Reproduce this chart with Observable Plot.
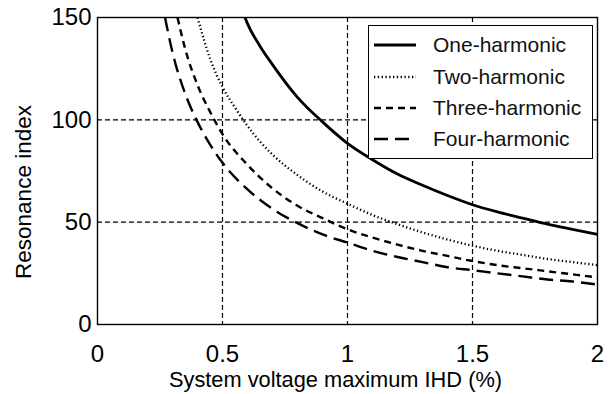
<!DOCTYPE html>
<html>
<head>
<meta charset="utf-8">
<script src="https://cdn.jsdelivr.net/npm/d3@7"></script>
<script src="https://cdn.jsdelivr.net/npm/@observablehq/plot@0.6"></script>
<style>
  html, body { margin: 0; padding: 0; background: #fff; }
  #wrap { position: relative; width: 608px; height: 394px; font-family: "Liberation Sans", Arial, sans-serif; }
  #legend { position: absolute; left: 368px; top: 25px; width: 225px; height: 134px; border: 1.3px solid #000; background: #fff; box-sizing: border-box; }
  .row { position: absolute; left: 0; height: 30px; display: flex; align-items: center; }
  .row span { font-size: 21px; color: #111; margin-left: 17px; }
  .row svg { margin-left: 5px; }
</style>
</head>
<body>
<div id="wrap"></div>
<script>
// Series names
const seriesNames = ["One-harmonic", "Two-harmonic", "Three-harmonic", "Four-harmonic"];

// Values (x = IHD %, y = resonance index)
const oneX = [0.59, 0.6, 0.65, 0.7, 0.8, 0.9, 1.0, 1.1, 1.2, 1.3, 1.4, 1.5, 1.6, 1.7, 1.8, 1.9, 2.0];
const oneY = [150, 147, 136, 127, 111, 99, 88.5, 80.5, 73.5, 68, 63, 58.5, 55, 52, 49, 46.5, 44];

const twoX = [0.40, 0.45, 0.5, 0.55, 0.6, 0.7, 0.8, 0.9, 1.0, 1.1, 1.2, 1.3, 1.4, 1.5, 1.6, 1.7, 1.8, 1.9, 2.0];
const twoY = [150, 130, 116, 106, 97, 83, 73, 65, 59, 53.5, 49, 45, 41.5, 38.5, 36, 34, 32, 30.5, 29];

const threeX = [0.32, 0.35, 0.4, 0.45, 0.5, 0.6, 0.7, 0.8, 0.9, 1.0, 1.1, 1.2, 1.3, 1.4, 1.5, 1.6, 1.7, 1.8, 1.9, 2.0];
const threeY = [150, 135, 117, 104, 93, 78, 66.5, 58, 52, 46.5, 42.5, 39, 36, 33.5, 31, 29, 27.5, 26, 24.5, 23];

const fourX = [0.27, 0.3, 0.35, 0.4, 0.45, 0.5, 0.6, 0.7, 0.8, 0.9, 1.0, 1.1, 1.2, 1.3, 1.4, 1.5, 1.6, 1.7, 1.8, 1.9, 2.0];
const fourY = [150, 133, 113, 99, 88, 79, 66, 56.5, 49.5, 44, 40, 36, 33, 30.5, 28, 26.5, 25, 23.5, 22, 21, 19.5];

const xTicks = [0, 0.5, 1, 1.5, 2];
const yTicks = [0, 50, 100, 150];
const xGrid = [0.5, 1, 1.5];
const yGrid = [50, 100];

const styles = [
  {width: 2.8, dash: null},
  {width: 2.3, dash: "1.3,2.5"},
  {width: 2.4, dash: "7,5"},
  {width: 2.4, dash: "14,7"}
];

const toRows = (xs, ys) => xs.map((x, i) => ({x, y: ys[i]}));
const series = [toRows(oneX, oneY), toRows(twoX, twoY), toRows(threeX, threeY), toRows(fourX, fourY)];

const lineMarks = series.map((d, i) => Plot.line(d, {
  x: "x", y: "y", curve: "monotone-x",
  stroke: "#000", strokeWidth: styles[i].width,
  strokeDasharray: styles[i].dash, strokeLinecap: "butt"
}));

const chart = Plot.plot({
  width: 608,
  height: 394,
  marginLeft: 97,
  marginRight: 11,
  marginTop: 17,
  marginBottom: 70,
  style: {fontFamily: "'Liberation Sans', Arial, sans-serif", background: "#fff", color: "#000", overflow: "visible"},
  x: {domain: [0, 2]},
  y: {domain: [0, 150]},
  marks: [
    Plot.ruleX(xGrid, {stroke: "#000", strokeWidth: 1.2, strokeDasharray: "5,3"}),
    Plot.ruleY(yGrid, {stroke: "#000", strokeWidth: 1.2, strokeDasharray: "5,3"}),
    ...lineMarks,
    Plot.frame({stroke: "#000", strokeWidth: 1.4}),
    Plot.axisX({ticks: xTicks, tickFormat: d => String(d), tickSize: 0, tickPadding: 20, fontSize: 24,
      label: "System voltage maximum IHD (%)", labelAnchor: "center", labelArrow: "none", labelOffset: 64}),
    Plot.axisY({ticks: yTicks, tickFormat: d => String(d), tickSize: 0, tickPadding: 6, fontSize: 24,
      label: "Resonance index", labelAnchor: "center", labelArrow: "none", labelOffset: 82})
  ]
});
const shiftText = (sel, size, dx, dy) => chart.querySelectorAll(sel).forEach(t => {
  t.setAttribute("font-size", size);
  t.setAttribute("transform", `translate(${dx},${dy}) ` + (t.getAttribute("transform") || ""));
});
shiftText("g[aria-label='x-axis label'] text", "21.8", -12, -2);
shiftText("g[aria-label='y-axis label'] text", "22.5", 0, 21);

const wrap = document.getElementById("wrap");
wrap.appendChild(chart);

// Legend
const legend = document.createElement("div");
legend.id = "legend";
const rowTops = [4, 36, 67, 98];
seriesNames.forEach((name, i) => {
  const row = document.createElement("div");
  row.className = "row";
  row.style.top = rowTops[i] + "px";
  const s = styles[i];
  row.innerHTML = `<svg width="42" height="10"><line x1="0" x2="42" y1="5" y2="5" stroke="#000" stroke-width="${s.width}" ${s.dash ? `stroke-dasharray="${s.dash}"` : ""}/></svg><span>${name}</span>`;
  legend.appendChild(row);
});
wrap.appendChild(legend);
</script>
</body>
</html>
